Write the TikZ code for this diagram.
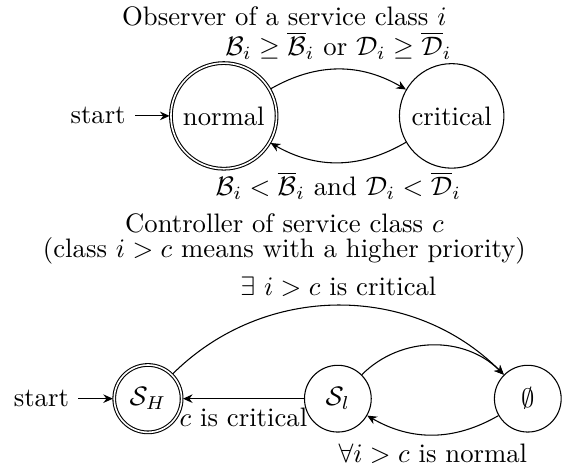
\documentclass[tikz,border=0pt]{standalone}
\usetikzlibrary{automata,arrows.meta}
\begin{document}
\begin{tikzpicture}[>={Stealth[length=3.6pt,width=3.2pt,inset=1.2pt]}, auto,
  ttl/.style={inner sep=0pt, anchor=base}]
\useasboundingbox (0,0) rectangle (213.1pt,-175.3pt);
% top diagram
\node[ttl] (t1) at (106.5pt,-9.4pt) {Observer of a service class $i$};
\node[state,initial,accepting] (normal) at (83.8pt,-43.4pt) {normal};
\node[state] (critical) at ([xshift=3cm]normal) {critical};
\path[->] (normal) edge[bend left] node {$\mathcal{B}_i \geq \overline{\mathcal{B}}_i$ or $\mathcal{D}_i \geq \overline{\mathcal{D}}_i$} (critical)
          (critical) edge[bend left] node {$\mathcal{B}_i < \overline{\mathcal{B}}_i$ and $\mathcal{D}_i < \overline{\mathcal{D}}_i$} (normal);
% bottom diagram
\node[ttl] (t2) at (106.5pt,-86.9pt) {Controller of service class $c$};
\node[ttl] (t3) at (106.5pt,-96.5pt) {(class $i > c$ means with a higher priority)};
\node[state,initial,accepting] (SH) at (55.4pt,-149.3pt) {$\mathcal{S}_H$};
\node[state] (Sl) at ([xshift=2.5cm]SH) {$\mathcal{S}_l$};
\node[state] (E) at ([xshift=2.5cm]Sl) {$\emptyset$};
\path[->] (SH) edge[bend left=45] node {$\exists\ i > c$ is critical} (E)
          (Sl) edge node {$c$ is critical} (SH)
          (Sl) edge[bend left=45] (E)
          (E) edge[bend left] node {$\forall i > c$ is normal} (Sl);
\end{tikzpicture}
\end{document}
